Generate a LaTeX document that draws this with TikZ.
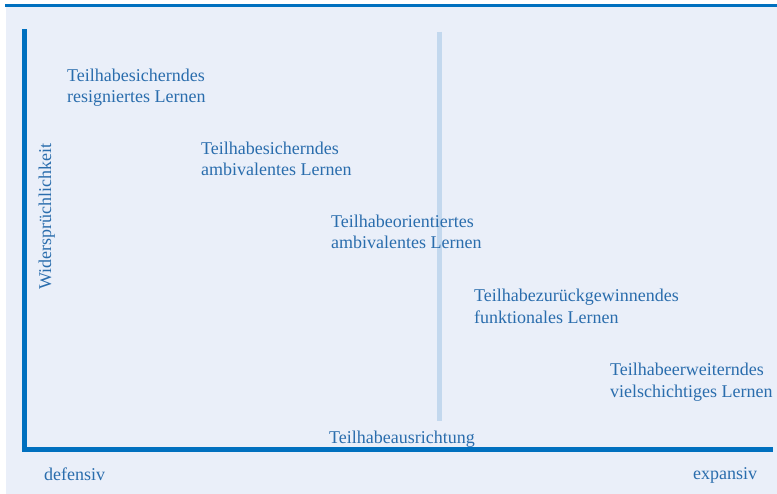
\documentclass[tikz,border=0pt]{standalone}
\usepackage{fontspec}
\setmainfont{Liberation Serif}
\definecolor{bgc}{HTML}{EAEFF9}
\definecolor{axisc}{HTML}{0070BF}
\definecolor{barc}{HTML}{C3D8EE}
\definecolor{txtc}{HTML}{2A6DAD}
\tikzset{
  lbl/.style={anchor=base west, inner sep=0pt, text=txtc, font=\fontsize{18bp}{21.5bp}\selectfont, align=left},
  axisline/.style={draw=axisc, line width=5bp},
}
\begin{document}
\begin{tikzpicture}[x=1bp,y=-1bp]
\useasboundingbox (0,0) rectangle (777,494);
\fill[white] (0,0) rectangle (777,494);
\fill[bgc] (6,7) rectangle (777,494);
\draw[draw=axisc, line width=3bp] (5,5.5) -- (777,5.5);
% light vertical bar
\coordinate (bt) at (439.5,32);
\coordinate (bb) at (439.5,421);
\draw[draw=barc, line width=5bp] (bt) -- (bb);
% axes
\coordinate (ytop) at (24.5,32);
\coordinate (orig) at (24.5,449.5);
\coordinate (xend) at (770,449.5);
\draw[axisline, line cap=rect] (ytop) -- (orig) -- (xend);
% labels (anchor = baseline of the last line)
\node[lbl] (n1) at (67,103) {Teilhabesicherndes\\resigniertes Lernen};
\node[lbl] (n2) at (201,176) {Teilhabesicherndes\\ambivalentes Lernen};
\node[lbl] (n3) at (331,249) {Teilhabeorientiertes\\ambivalentes Lernen};
\node[lbl] (n4) at (474,323) {Teilhabezurückgewinnendes\\funktionales Lernen};
\node[lbl] (n5) at (610,397) {Teilhabeerweiterndes\\vielschichtiges Lernen};
\node[lbl] (xl) at (329,443) {Teilhabeausrichtung};
\node[lbl] (def) at (44,480) {defensiv};
\node[lbl] (exp) at (693,479) {expansiv};
\node[lbl, rotate=90] (yl) at (51,290) {Widersprüchlichkeit};
\end{tikzpicture}
\end{document}
